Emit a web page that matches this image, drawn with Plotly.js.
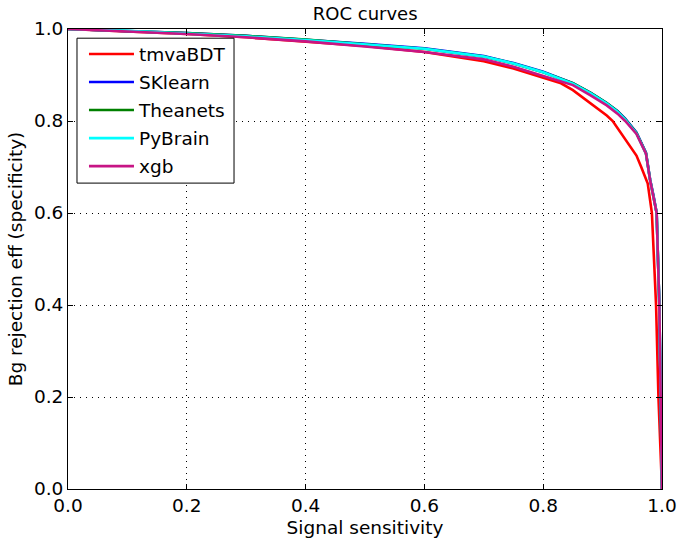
<!DOCTYPE html>
<html>
<head>
<meta charset="utf-8">
<script src="https://cdn.plot.ly/plotly-3.0.1.min.js"></script>
<style>html,body{margin:0;padding:0;background:#fff;}#chart{width:680px;height:538px;}</style>
</head>
<body>
<div id="chart"></div>
<script>
// Signal sensitivity (x) and background rejection (y)
const names = ["tmvaBDT", "SKlearn", "Theanets", "PyBrain", "xgb"];
const colors = ["#ff0000", "#0000ff", "#008000", "#00ffff", "#c71585"];

const tmvaX = [0, 0.1, 0.2, 0.3, 0.4, 0.5, 0.6, 0.7, 0.75, 0.8, 0.83, 0.85, 0.88, 0.907, 0.917, 0.935, 0.957, 0.965, 0.976, 0.983, 0.987, 0.990, 0.994, 0.998, 1.0];
const tmvaY = [1.0, 0.995, 0.989, 0.982, 0.973, 0.963, 0.950, 0.930, 0.914, 0.894, 0.882, 0.867, 0.838, 0.812, 0.800, 0.765, 0.725, 0.700, 0.664, 0.600, 0.500, 0.400, 0.200, 0.050, 0.0];

const skX = [0, 0.1, 0.2, 0.3, 0.4, 0.5, 0.6, 0.7, 0.75, 0.8, 0.85, 0.88, 0.907, 0.925, 0.938, 0.957, 0.973, 0.980, 0.986, 0.991, 0.9955, 0.998, 1.0];
const skY = [1.0, 0.996, 0.991, 0.985, 0.977, 0.968, 0.958, 0.941, 0.926, 0.907, 0.882, 0.861, 0.839, 0.822, 0.805, 0.775, 0.731, 0.673, 0.636, 0.600, 0.400, 0.200, 0.0];

const thX = [0, 0.1, 0.2, 0.3, 0.4, 0.5, 0.6, 0.7, 0.75, 0.8, 0.85, 0.88, 0.907, 0.925, 0.938, 0.957, 0.973, 0.980, 0.986, 0.991, 0.9955, 0.998, 1.0];
const thY = [1.0, 0.996, 0.991, 0.985, 0.977, 0.967, 0.957, 0.940, 0.925, 0.906, 0.882, 0.861, 0.839, 0.821, 0.804, 0.774, 0.730, 0.672, 0.635, 0.600, 0.400, 0.200, 0.0];

const pbX = [0, 0.1, 0.2, 0.3, 0.4, 0.5, 0.6, 0.7, 0.75, 0.8, 0.85, 0.88, 0.907, 0.925, 0.938, 0.957, 0.973, 0.980, 0.986, 0.991, 0.9955, 0.998, 1.0];
const pbY = [1.0, 0.996, 0.990, 0.984, 0.976, 0.967, 0.957, 0.940, 0.925, 0.906, 0.881, 0.860, 0.838, 0.820, 0.803, 0.773, 0.729, 0.671, 0.635, 0.600, 0.400, 0.200, 0.0];

const xgbX = [0, 0.1, 0.2, 0.3, 0.4, 0.5, 0.6, 0.7, 0.75, 0.8, 0.85, 0.879, 0.907, 0.925, 0.938, 0.957, 0.973, 0.980, 0.986, 0.991, 0.9955, 0.998, 1.0];
const xgbY = [1.0, 0.995, 0.989, 0.982, 0.973, 0.962, 0.950, 0.934, 0.918, 0.898, 0.878, 0.856, 0.834, 0.816, 0.800, 0.772, 0.729, 0.671, 0.634, 0.600, 0.400, 0.200, 0.0];

const xs = [tmvaX, skX, thX, pbX, xgbX];
const ys = [tmvaY, skY, thY, pbY, xgbY];

const tickVals = [0.0, 0.2, 0.4, 0.6, 0.8, 1.0];
const tickText = ["0.0", "0.2", "0.4", "0.6", "0.8", "1.0"];

const traces = names.map((n, i) => ({
  x: xs[i], y: ys[i], name: n, type: "scatter", mode: "lines",
  legendgroup: n,
  line: {color: colors[i], width: 2.6}
}));

const font = "DejaVu Sans, sans-serif";
const axisCommon = {
  range: [0, 1], tickvals: tickVals, ticktext: tickText,
  showline: true, linecolor: "#000", linewidth: 1, mirror: "ticks",
  ticks: "inside", ticklen: 5, tickcolor: "#000", tickwidth: 1,
  showgrid: true, gridcolor: "#000", gridwidth: 1, griddash: "1px,5px",
  zeroline: false, tickfont: {family: font, size: 18.5, color: "#000"},
  fixedrange: true
};

const layout = {
  width: 680, height: 538,
  margin: {l: 68, r: 18, t: 29, b: 49},
  paper_bgcolor: "#fff", plot_bgcolor: "#fff",
  font: {family: font, color: "#000"},
  title: {text: "ROC curves", font: {family: font, size: 18, color: "#000"}, x: 0.537, xanchor: "center", y: 0.974, yanchor: "middle"},
  xaxis: Object.assign({}, axisCommon, {title: {text: "Signal sensitivity", font: {family: font, size: 18.5, color: "#000"}, standoff: 5}}),
  yaxis: Object.assign({}, axisCommon, {title: {text: "Bg rejection eff (specificity)", font: {family: font, size: 18.5, color: "#000"}, standoff: 6}}),
  shapes: [{
    type: "rect", xref: "paper", yref: "paper", layer: "above",
    x0: 0.01515, x1: 0.2795, y0: 0.665, y1: 0.980,
    line: {color: "#000", width: 1}, fillcolor: "#fff"
  }],
  showlegend: true,
  legend: {
    x: 0.0269, y: 0.986, xanchor: "left", yanchor: "top",
    bgcolor: "rgba(0,0,0,0)", borderwidth: 0,
    font: {family: font, size: 18.5, color: "#000"},
    traceorder: "grouped", tracegroupgap: 1, itemwidth: 45
  }
};

Plotly.newPlot("chart", traces, layout, {displayModeBar: false, staticPlot: true});
</script>
</body>
</html>
